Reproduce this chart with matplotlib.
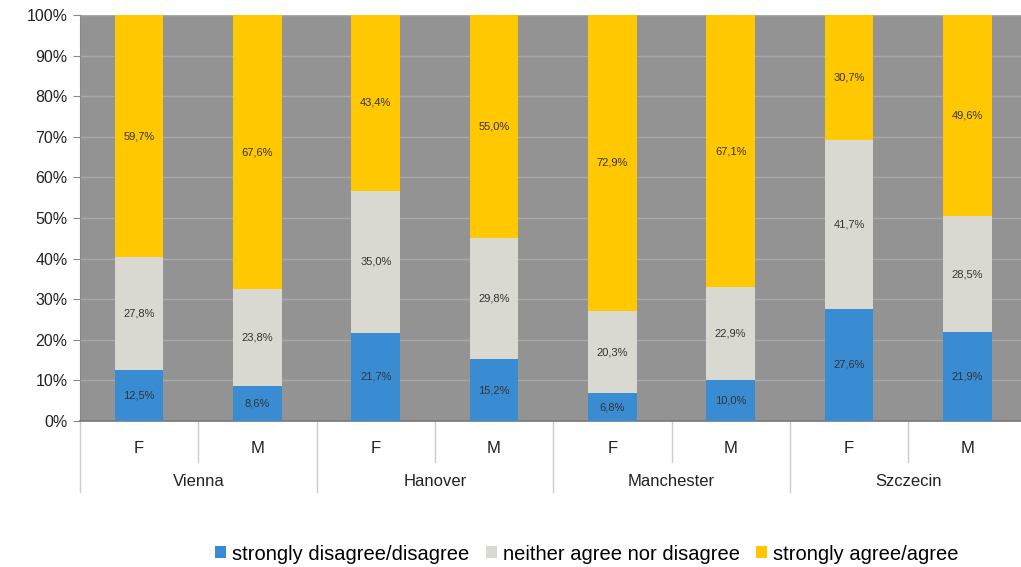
import matplotlib.pyplot as plt
import numpy as np
from matplotlib.patches import Patch

plt.rcParams['font.family'] = ['Liberation Sans', 'DejaVu Sans']

cities = ['Vienna', 'Hanover', 'Manchester', 'Szczecin']
sexes = ['F', 'M'] * 4
disagree = [12.5, 8.6, 21.7, 15.2, 6.8, 10.0, 27.6, 21.9]
neither = [27.8, 23.8, 35.0, 29.8, 20.3, 22.9, 41.7, 28.5]
agree = [59.7, 67.6, 43.4, 55.0, 72.9, 67.1, 30.7, 49.6]
series_names = ['strongly disagree/disagree', 'neither agree nor disagree', 'strongly agree/agree']
colors = ['#3a8cd2', '#d9d9d1', '#ffc800']

fig = plt.figure(figsize=(10.21, 5.67), dpi=100)
ax = fig.add_axes([80 / 1021, 146 / 567, 941 / 1021, 406 / 567])
ax.set_facecolor('#939393')

x = np.arange(8)
width = 0.41
bottom = np.zeros(8)
for vals, c in zip([disagree, neither, agree], colors):
    vals = np.array(vals)
    ax.bar(x, vals, width, bottom=bottom, color=c, zorder=3)
    for xi, b, v in zip(x, bottom, vals):
        ax.text(xi, b + v / 2, f'{v:.1f}%'.replace('.', ','), ha='center', va='center',
                fontsize=8, color='#333333', zorder=4)
    bottom += vals

ax.set_ylim(0, 100)
ax.set_xlim(-0.5, -0.5 + 941 / 118.3)
ax.set_yticks(range(0, 101, 10))
ax.set_yticklabels([f'{v}%' for v in range(0, 101, 10)], fontsize=11.5, color='#222222')
ax.yaxis.grid(True, color='#a9a9a9', linewidth=1, zorder=0)
ax.tick_params(axis='y', length=5, color='#888888', pad=4)
ax.set_xticks([])
for s in ['top', 'right']:
    ax.spines[s].set_visible(False)
ax.spines['left'].set_color('#888888')
ax.spines['bottom'].set_color('#777777')
ax.spines['bottom'].set_linewidth(1.2)

trans = ax.get_xaxis_transform()
for i in range(9):
    xs = i - 0.5
    y_end = -0.175 if i % 2 == 0 else -0.101
    ax.plot([xs, xs], [0, y_end], transform=trans, color='#cccccc', lw=1, clip_on=False)
for xi, s in zip(x, sexes):
    ax.text(xi, -0.068, s, transform=trans, ha='center', va='center', fontsize=12, color='#222222')
for i, c in enumerate(cities):
    ax.text(2 * i + 0.5, -0.15, c, transform=trans, ha='center', va='center', fontsize=12, color='#222222')

handles = [Patch(facecolor=c, edgecolor='none') for c in colors]
fig.legend(handles, series_names, loc='center', bbox_to_anchor=(587 / 1021, 13 / 567), ncol=3,
           frameon=False, fontsize=14.5, handlelength=0.55, handleheight=0.55, handletextpad=0.3,
           columnspacing=0.8)

fig.savefig('out.png', dpi=100)
